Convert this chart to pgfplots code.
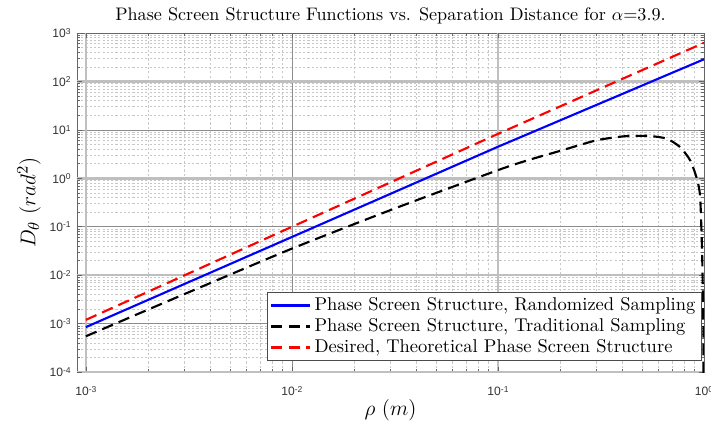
\documentclass[border=0pt]{standalone}
\usepackage{pgfplots}
\pgfplotsset{compat=1.18}
\usepackage{fontspec}
\newfontfamily\ticksf{Liberation Sans}
\usetikzlibrary{calc}
\newcommand\tl[1]{{\ticksf\fontsize{6.8}{7}\selectfont 10\raisebox{0.55ex}{\fontsize{4.8}{5}\selectfont #1}}}
\begin{document}
\begin{tikzpicture}
\begin{axis}[
  scale only axis, width=352.7pt, height=190.7pt,
  xmode=log, ymode=log,
  xmin=9.05e-4, xmax=1, ymin=1e-4, ymax=1e3,
  axis line style={black!60, line width=0.5pt},
  tick align=inside,
  major tick length=3pt, minor tick length=1.7pt,
  every tick/.style={black!60, line width=0.4pt},
  xtick={1e-3,1e-2,1e-1,1},
  xticklabels={\tl{-3},\tl{-2},\tl{-1},\tl{0}},
  ytick={1e-4,1e-3,1e-2,1e-1,1,1e1,1e2,1e3},
  yticklabels={\tl{-4},\tl{-3},\tl{-2},\tl{-1},\tl{0},\tl{1},\tl{2},\tl{3}},
  xticklabel style={text=black!80, yshift=-4.5pt},
  yticklabel style={text=black!80},
  grid=both,
  major grid style={black!45, line width=0.45pt},
  minor grid style={black!22, line width=0.4pt, dash pattern=on 1.2pt off 1.2pt},
  extra x ticks={1e-3,1e-1},
  extra x tick labels={},
  extra x tick style={grid=major, major grid style={black!25, line width=1.3pt}},
  extra y ticks={1e-4,1e-2,1,1e2},
  extra y tick labels={},
  extra y tick style={grid=major, major grid style={black!25, line width=1.3pt}},
  title={Phase Screen Structure Functions vs. Separation Distance for $\alpha$=3.9.},
  title style={at={(axis description cs:0.5,1)}, anchor=base, yshift=1pt, font=\fontsize{10.2}{12}\selectfont},
  xlabel={$\rho\ (m)$},
  xlabel style={at={(axis description cs:0.5,0)}, anchor=base, yshift=-24.2pt, font=\fontsize{11.5}{13}\selectfont},
  ylabel={$D_\theta\ (rad^2)$},
  ylabel style={at={(axis description cs:0,0.5)}, anchor=center, yshift=27pt, font=\fontsize{12.5}{14}\selectfont},
  legend style={at={(rel axis cs:0.997,0.032)}, anchor=south east, draw=black!70, line width=0.6pt, fill=white,
    font=\fontsize{10.4}{12.7}\selectfont, inner xsep=1.5pt, inner ysep=1pt, row sep=-1pt, cells={anchor=west}},
  legend image code/.code={\draw[#1] (0pt,0pt) -- (22pt,0pt);},
]
\addplot[color={rgb,1:red,0;green,0;blue,1}, line width=1.2pt] coordinates {
(0.001,0.00085) (0.01,0.0617) (0.1,4.5) (1,288)};
\addlegendentry{Phase Screen Structure, Randomized Sampling}
\addplot[black, line width=1.2pt, dash pattern=on 6.5pt off 3.5pt, smooth, tension=0.4] coordinates {
(0.001,0.00055) (0.00316,0.00447) (0.01,0.0355) (0.0316,0.24) (0.1,1.48) (0.141,2.4) (0.2,3.69) (0.3,6.1) (0.41,7.4) (0.5,7.55) (0.55,7.5) (0.66,6.6) (0.764,4.45) (0.855,2.38) (0.922,1.0) (0.957,0.42) (0.978,0.032) (0.9885,0.0027) (0.993,0.00056) (0.996,0.00001)};
\addlegendentry{Phase Screen Structure, Traditional Sampling}
\addplot[color={rgb,1:red,1;green,0;blue,0}, line width=1.2pt, dash pattern=on 6.5pt off 3.5pt] coordinates {
(0.001,0.0012) (0.01,0.1) (0.1,8.3) (1,630)};
\addlegendentry{Desired, Theoretical Phase Screen Structure}
\end{axis}
\pgfresetboundingbox
\path ($(current axis.south west)+(-43.3pt,-30.9pt)$) rectangle ($(current axis.north east)+(3.9pt,18.6pt)$);
\end{tikzpicture}
\end{document}
